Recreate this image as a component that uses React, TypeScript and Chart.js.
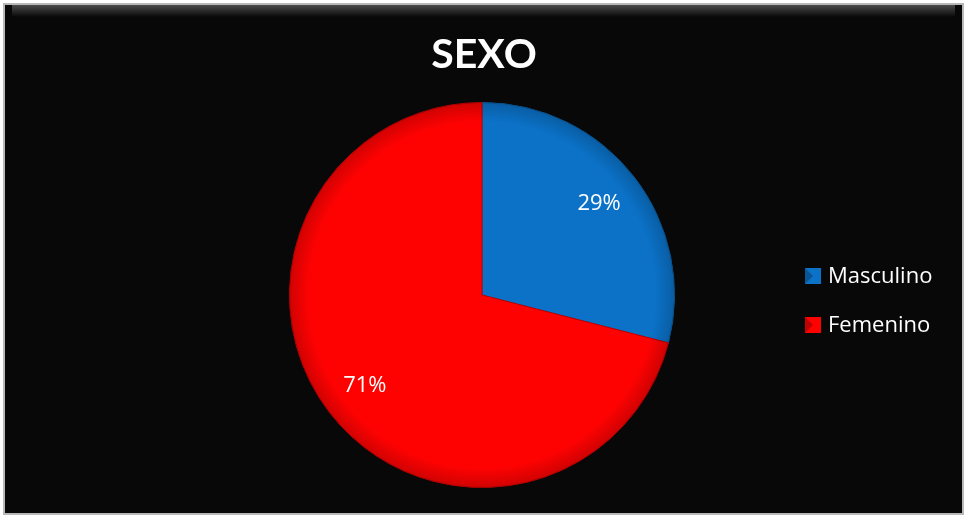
import React, { useEffect, useRef } from "react";
import { Chart, registerables } from "chart.js";

Chart.register(...registerables);

const categories = ["Masculino", "Femenino"];
const values = [29, 71];
const sliceColors = ["#0B72C8", "#FE0202"];
const titleText = "SEXO";

const framePlugin = {
  id: "frame",
  beforeDraw(chart: any) {
    const ctx = chart.ctx;
    ctx.save();
    ctx.fillStyle = "#ffffff";
    ctx.fillRect(0, 0, chart.width, chart.height);
    ctx.fillStyle = "#b8b8b8";
    ctx.fillRect(3, 3, chart.width - 6, chart.height - 6);
    ctx.fillStyle = "#080808";
    ctx.fillRect(5, 5, chart.width - 10, chart.height - 10);
    const g = ctx.createLinearGradient(0, 5, 0, 17);
    g.addColorStop(0, "#4a4a4a");
    g.addColorStop(1, "#080808");
    ctx.fillStyle = g;
    ctx.fillRect(12, 5, chart.width - 24, 12);
    ctx.restore();
  },
};

const labelsPlugin = {
  id: "sliceLabels",
  afterDatasetsDraw(chart: any) {
    const ctx = chart.ctx;
    const meta = chart.getDatasetMeta(0);
    const total = values.reduce((a, b) => a + b, 0);
    ctx.save();
    // rim shading to mimic bevel
    const a0: any = meta.data[0];
    if (a0) {
      const p0 = a0.getProps(["x", "y", "outerRadius"], true);
      const rg = ctx.createRadialGradient(p0.x, p0.y, p0.outerRadius * 0.9, p0.x, p0.y, p0.outerRadius);
      rg.addColorStop(0, "rgba(0,0,0,0)");
      rg.addColorStop(1, "rgba(0,0,0,0.18)");
      ctx.fillStyle = rg;
      ctx.beginPath();
      ctx.arc(p0.x, p0.y, p0.outerRadius, 0, Math.PI * 2);
      ctx.fill();
    }
    ctx.fillStyle = "#ffffff";
    ctx.font = "22px 'Open Sans', sans-serif";
    ctx.textAlign = "center";
    ctx.textBaseline = "middle";
    meta.data.forEach((arc: any, i: number) => {
      const p = arc.getProps(["x", "y", "startAngle", "endAngle", "outerRadius"], true);
      const mid = (p.startAngle + p.endAngle) / 2;
      const r = p.outerRadius * 0.77;
      const pct = Math.round((values[i] / total) * 100) + "%";
      ctx.fillText(pct, p.x + Math.cos(mid) * r, p.y + Math.sin(mid) * r);
    });
    ctx.font = "bold 41px Lato, 'Open Sans', sans-serif";
    ctx.fillText(titleText, 484, 55);
    ctx.textAlign = "left";
    ctx.font = "22px 'Open Sans', sans-serif";
    categories.forEach((c, i) => {
      const y = 276 + i * 49;
      ctx.fillStyle = sliceColors[i];
      ctx.fillRect(805, y - 8, 16, 16);
      ctx.fillStyle = "rgba(0,0,0,0.25)";
      ctx.beginPath();
      ctx.moveTo(805, y - 8);
      ctx.lineTo(813, y);
      ctx.lineTo(805, y + 8);
      ctx.closePath();
      ctx.fill();
      ctx.fillStyle = "#ffffff";
      ctx.fillText(c, 828, y + 1);
    });
    ctx.restore();
  },
};

export default function App() {
  const ref = useRef<HTMLCanvasElement | null>(null);
  useEffect(() => {
    document.body.style.margin = "0";
    const chart = new Chart(ref.current as HTMLCanvasElement, {
      type: "pie",
      data: {
        labels: categories,
        datasets: [
          {
            data: values,
            backgroundColor: sliceColors,
            borderColor: ["#0a5a9c", "#c00000"],
            borderWidth: 1,
          },
        ],
      },
      options: {
        animation: false,
        responsive: false,
        layout: { padding: { left: 289, right: 292, top: 102, bottom: 30 } },
        plugins: {
          legend: { display: false },
          tooltip: { enabled: false },
          title: { display: false },
        },
      },
      plugins: [framePlugin, labelsPlugin],
    });
    return () => chart.destroy();
  }, []);
  return (
    <div style={{ width: 967, height: 518 }}>
      <canvas ref={ref} width={967} height={518} style={{ display: "block" }} />
    </div>
  );
}
